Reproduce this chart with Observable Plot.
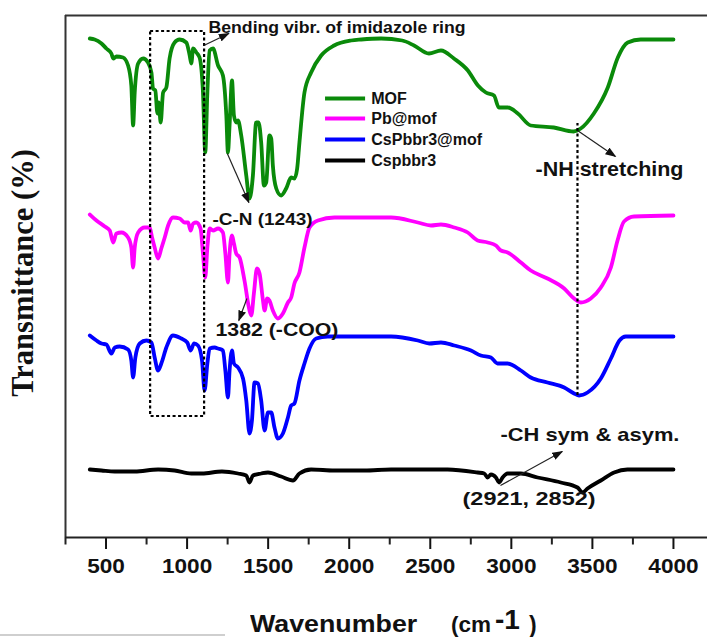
<!DOCTYPE html>
<html><head><meta charset="utf-8">
<script src="https://cdn.jsdelivr.net/npm/d3@7"></script>
<script src="https://cdn.jsdelivr.net/npm/@observablehq/plot@0.6"></script>
<style>
html,body{margin:0;padding:0;background:#fff;}
#wrap{position:relative;width:707px;height:637px;overflow:hidden;font-family:"Liberation Sans",Arial,sans-serif;background:#fff;}
#ytitle{position:absolute;left:23px;top:273px;transform:translate(-50%,-50%) rotate(-90deg);font-family:"Liberation Serif","Times New Roman",serif;font-weight:bold;font-size:30.5px;line-height:1;white-space:nowrap;color:#111;}
.xt{position:absolute;font-weight:bold;line-height:1;white-space:nowrap;color:#111;}
#grayline{position:absolute;left:0;top:634px;width:225px;height:2px;background:#cfcfcf;}
g[aria-label="x-axis tick"]{stroke-width:2px;}
</style></head>
<body>
<div id="wrap">
<div id="chart"></div>
<div id="ytitle">Transmittance (%)</div>
<div class="xt" style="left:250px;top:613.4px;font-size:23.5px;transform:scaleX(1.14);transform-origin:left center">Wavenumber</div>
<div class="xt" style="left:451px;top:614.3px;font-size:22.5px">(cm</div>
<div class="xt" style="left:495px;top:606.3px;font-size:28px">-1</div>
<div class="xt" style="left:529px;top:613.8px;font-size:23px">)</div>
<div id="grayline"></div>
</div>
<script>
// Series names and colours
const seriesNames = ["MOF", "Pb@mof", "CsPbbr3@mof", "Cspbbr3"];
const seriesColors = ["#0a8a0a", "#ff00ff", "#0000ff", "#000000"];

// [wavenumber (cm-1), offset transmittance (a.u.)]
const mof = [[400,499],[430,498],[472,494],[502,489],[533,484],[544,479],[564,481],[605,480],[636,472],[656,452],[667,412],[677,445],[698,474],[729,479],[759,475],[780,465],[790,449],[804,447],[817,424],[825,435],[837,415],[852,445],[872,450],[892,479],[923,495],[954,498],[995,495],[1016,482],[1026,474],[1037,489],[1057,485],[1077,480],[1098,445],[1112,385],[1125,445],[1139,487],[1160,489],[1191,472],[1221,462],[1242,422],[1252,385],[1262,412],[1277,457],[1289,422],[1303,415],[1314,417],[1334,402],[1365,362],[1385,339],[1406,362],[1426,415],[1441,415],[1457,395],[1474,352],[1488,355],[1508,402],[1519,399],[1529,372],[1550,349],[1580,342],[1611,349],[1642,360],[1662,359],[1679,369],[1693,395],[1724,445],[1765,465],[1827,482],[1907,492],[2012,497],[2074,498],[2197,499],[2327,497],[2400,492],[2492,484],[2566,487],[2646,479],[2732,467],[2794,452],[2843,445],[2893,442],[2923,430],[2979,430],[3040,424],[3120,412],[3262,410],[3385,406],[3428,409],[3509,424],[3595,450],[3657,480],[3718,495],[3798,498],[4000,498]];
const pbmof = [[400,323],[441,317],[492,311],[523,307],[544,295],[564,304],[595,305],[636,300],[656,290],[667,270],[677,290],[698,305],[738,310],[769,310],[784,300],[800,290],[821,279],[841,289],[862,300],[883,312],[913,320],[954,319],[985,315],[1006,315],[1022,307],[1037,314],[1057,315],[1083,309],[1098,284],[1112,260],[1125,290],[1139,309],[1160,307],[1191,309],[1221,305],[1236,284],[1252,255],[1262,284],[1277,302],[1289,294],[1303,284],[1324,280],[1354,257],[1385,227],[1396,222],[1412,244],[1431,269],[1447,264],[1468,237],[1478,227],[1494,239],[1508,237],[1529,227],[1560,219],[1591,224],[1622,235],[1642,240],[1662,254],[1693,265],[1724,290],[1755,310],[1807,317],[1909,320],[2074,320],[2258,320],[2423,315],[2504,312],[2566,313],[2648,310],[2731,305],[2792,297],[2854,295],[2905,292],[2936,287],[2977,285],[3059,275],[3120,267],[3223,259],[3326,249],[3387,239],[3428,235],[3490,239],[3552,250],[3614,270],[3655,297],[3695,316],[3757,321],[4000,322]];
const cspbmof = [[400,202],[441,197],[472,194],[502,193],[533,184],[554,190],[584,191],[636,188],[656,177],[667,160],[681,180],[708,194],[749,197],[780,195],[800,180],[821,167],[841,174],[872,190],[913,202],[964,199],[1001,195],[1022,187],[1043,194],[1067,192],[1092,177],[1108,147],[1125,174],[1139,189],[1170,190],[1191,189],[1221,187],[1236,167],[1252,140],[1262,167],[1277,187],[1289,174],[1314,170],[1345,159],[1365,137],[1385,104],[1400,117],[1416,155],[1437,154],[1457,137],[1478,107],[1499,125],[1519,125],[1539,110],[1560,99],[1591,104],[1622,120],[1642,132],[1662,134],[1693,157],[1724,174],[1755,189],[1796,199],[1868,201],[2074,201],[2258,201],[2423,197],[2494,194],[2566,195],[2648,192],[2751,187],[2812,182],[2874,180],[2915,174],[2977,174],[3059,167],[3120,160],[3223,155],[3326,150],[3387,144],[3418,142],[3470,145],[3552,159],[3614,179],[3667,197],[3706,201],[4000,201]];
const cspbbr3 = [[400,68],[472,67],[554,66],[677,66],[821,68],[923,67],[1026,64],[1092,64],[1215,66],[1314,64],[1365,62],[1385,55],[1406,62],[1457,64],[1499,65],[1580,61],[1653,57],[1693,64],[1765,68],[1909,67],[2094,67],[2258,68],[2607,68],[2792,65],[2833,64],[2854,60],[2874,63],[2905,60],[2925,55],[2946,60],[2977,64],[3059,64],[3162,60],[3305,55],[3408,50],[3439,45],[3470,49],[3552,57],[3634,65],[3716,68],[4000,68]];

// Axis ticks
const majorTicks = [500, 1000, 1500, 2000, 2500, 3000, 3500, 4000];
const minorTicks = [250, 750, 1250, 1750, 2250, 2750, 3250, 3750];

// Legend rows (y in data units)
const legendY = [439, 419, 398, 377];

// Annotations
const annoText = ["Bending vibr. of imidazole ring", "-C-N (1243)", "1382 (-COO)", "-NH stretching", "-CH sym & asym.", "(2921, 2852)"];
const annoX = [1132, 1157, 1175, 3149, 2933, 2699];
const annoY = [509.5, 318, 207, 367.5, 102, 38.7];
const annoSize = [16, 17, 18.5, 20, 18.5, 18.5];
const annoWidth = [257, 100, 123, 148, 179, 133];

// Arrows [x1, y1, x2, y2]
const arrowX1 = [1103, 1248, 1369, 3408, 2933];
const arrowY1 = [492, 384, 239, 407, 52];
const arrowX2 = [1257, 1381, 1319, 3642, 3314];
const arrowY2 = [504, 335, 217, 381, 86];

// Dashed guides
const boxX = [775, 1108], boxY = [121, 506];
const nhX = 3408, nhY = [142, 414];

const allSeries = [mof, pbmof, cspbmof, cspbbr3];
const rows = allSeries.flatMap((s, i) => s.map(([x, y]) => ({x, y, name: seriesNames[i]})));
const legendRows = seriesNames.map((name, i) => ({name, v: legendY[i]}));
const annoRows = annoText.map((t, i) => ({t, x: annoX[i], y: annoY[i], s: annoSize[i]}));
const arrowRows = arrowX1.map((d, i) => ({x1: d, y1: arrowY1[i], x2: arrowX2[i], y2: arrowY2[i]}));

const plot = Plot.plot({
  width: 707, height: 590,
  marginLeft: 65, marginRight: 0, marginTop: 15, marginBottom: 53,
  style: {fontFamily: "'Liberation Sans', Arial, sans-serif", fontSize: "20px", fontWeight: "bold", background: "white", color: "#111", overflow: "visible"},
  x: {domain: [250, 4210], ticks: majorTicks, tickSize: 12, tickPadding: 9, tickFormat: d => `${d}`, label: null},
  y: {domain: [0, 522], axis: null},
  color: {domain: seriesNames, range: seriesColors},
  marks: [
    Plot.ruleY([522], {stroke: "#333", strokeWidth: 2}),
    Plot.ruleX([250], {stroke: "#333", strokeWidth: 2}),
    Plot.ruleY([0], {stroke: "#222", strokeWidth: 2}),
    Plot.ruleX(minorTicks, {y1: -7.5, y2: 0, stroke: "#222", strokeWidth: 2}),
    Plot.line(rows, {x: "x", y: "y", z: "name", stroke: "name", strokeWidth: 3.8, curve: "monotone-x", strokeLinejoin: "round"}),
    Plot.rect([{}], {x1: boxX[0], x2: boxX[1], y1: boxY[0], y2: boxY[1], fill: "none", stroke: "#000", strokeWidth: 2.2, strokeDasharray: "3,2.5"}),
    Plot.ruleX([nhX], {y1: nhY[0], y2: nhY[1], stroke: "#000", strokeWidth: 2.2, strokeDasharray: "3,2.5"}),
    Plot.ruleY(legendRows, {y: "v", x1: 1854, x2: 2101, stroke: "name", strokeWidth: 4}),
    Plot.text(legendRows, {x: 2136, y: "v", text: "name", textAnchor: "start", fontSize: 16, fontWeight: "bold", fill: "#111"}),
    Plot.link(arrowRows, {x1: "x1", y1: "y1", x2: "x2", y2: "y2", stroke: "#222", strokeWidth: 1.2}),
    Plot.text(annoRows, {x: "x", y: "y", text: "t", fontSize: "s", textAnchor: "start", fontWeight: "bold", fill: "#111"})
  ]
});
document.getElementById("chart").appendChild(plot);

const svg = d3.select(plot.tagName.toLowerCase() === "svg" ? plot : plot.querySelector("svg"));
const defs = svg.append("defs");
defs.append("marker").attr("id", "ah").attr("viewBox", "0 0 10 10").attr("refX", 9).attr("refY", 5)
  .attr("markerWidth", 11).attr("markerHeight", 8).attr("markerUnits", "userSpaceOnUse")
  .attr("orient", "auto").attr("preserveAspectRatio", "none")
  .append("path").attr("d", "M0,0L10,5L0,10z").attr("fill", "#111");
svg.selectAll('g[aria-label="link"] path').attr("marker-end", "url(#ah)");

svg.selectAll("text").each(function() {
  const t = this.textContent;
  const i = annoText.indexOf(t);
  if (i >= 0) {
    this.setAttribute("textLength", annoWidth[i]);
    this.setAttribute("lengthAdjust", "spacingAndGlyphs");
  } else if (/^\d+$/.test(t)) {
    const w = this.getComputedTextLength();
    this.setAttribute("textLength", w * 1.13);
    this.setAttribute("lengthAdjust", "spacingAndGlyphs");
  }
});
</script>
</body></html>
